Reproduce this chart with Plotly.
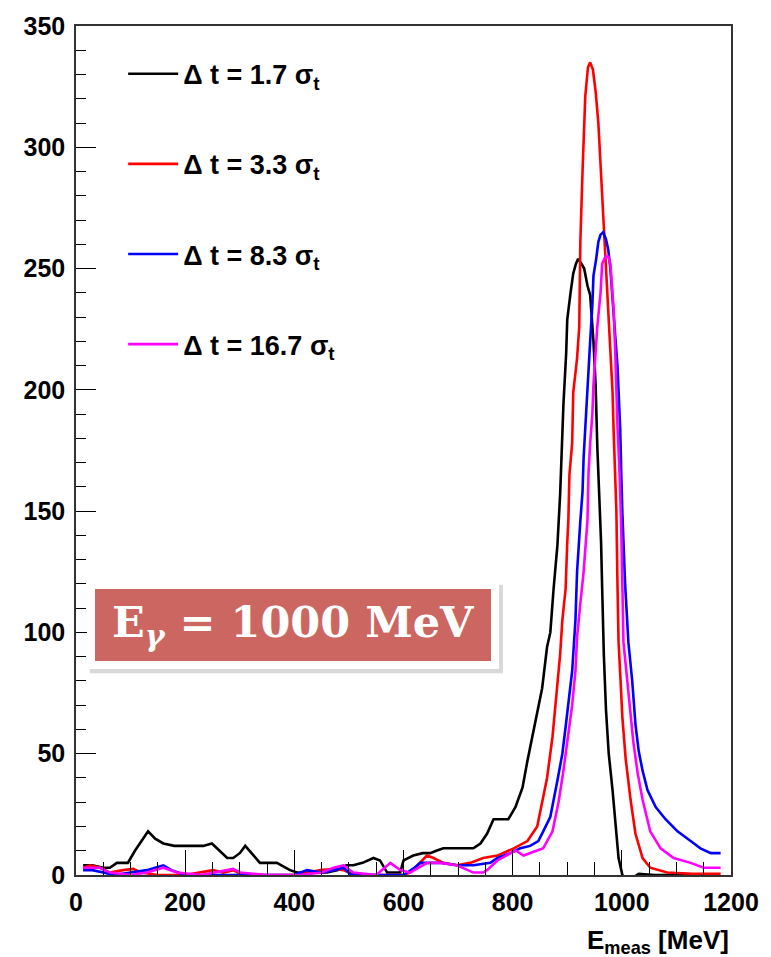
import plotly.graph_objects as go

# ---------------- data ----------------
black_E = [13, 30, 50, 62, 75, 95, 108, 120, 132, 145, 160, 180, 196, 215, 233, 249, 263, 277, 288, 300,
           310, 325, 337, 352, 368, 392, 405, 420, 440, 460, 480, 495, 508, 525, 545, 557, 570, 583, 594,
           600, 610, 618, 635, 649, 660, 673, 686, 698, 715, 728, 741, 753, 765, 780, 792, 805, 818, 827,
           836, 845, 854, 863, 869, 875, 882, 887, 891, 893, 898, 900, 906, 911, 916, 920, 926, 931, 937,
           942, 948, 952, 955, 958, 962, 964, 967, 971, 976, 983, 988, 994, 1001, 1012, 1021, 1031, 1060,
           1100, 1140, 1180]
black_N = [4, 4, 3, 3, 5, 5, 10, 14, 18, 15, 13, 12, 12, 12, 12, 13, 10, 7, 7, 9,
           12, 8, 5, 5, 5, 2, 1, 1, 1, 1, 2, 4, 4, 5, 7, 6, 1, 1, 1,
           6, 7, 8, 9, 9, 10, 11, 11, 11, 11, 11, 13, 17, 23, 23, 23, 28, 36, 47,
           57, 66, 77, 94, 100, 118, 136, 157, 181, 194, 215, 229, 240, 248, 252, 254, 252, 250, 243,
           239, 220, 202, 177, 160, 137, 118, 91, 68, 50, 35, 21, 7, 0, -3, -1, 0.5, 0,
           0, 0, 0]

red_E = [13, 26, 44, 62, 86, 105, 120, 150, 200, 251, 270, 288, 305, 350, 400, 448, 472, 490, 510, 550,
         600, 612, 625, 643, 655, 673, 698, 722, 746, 772, 802, 827, 845, 851, 863, 873, 882, 887, 891,
         897, 900, 902, 904, 909, 911, 918, 922, 924, 928, 931, 933, 938, 942, 947, 952, 957, 962, 966,
         970, 975, 979, 983, 985, 988, 990, 992, 994, 997, 1001, 1007, 1016, 1025, 1038, 1052, 1083,
         1130, 1181]
red_N = [3, 4, 3, 1, 2, 2.5, 1, 0, 0, 2, 1, 2, 0, 0, 0, 2, 2.5, 2, 0, 0,
         0, 1, 4, 8, 7, 5, 4, 5, 7, 8, 11, 14, 20, 27, 40, 57, 77, 91, 105,
         118, 137, 146, 165, 178, 199, 213, 226, 261, 290, 309, 321, 333, 335, 332, 323, 310, 288, 270,
         254, 233, 213, 199, 183, 165, 150, 120, 96, 83, 65, 48, 31, 17, 7, 3, 1,
         0.5, 0.5]

blue_E = [13, 30, 50, 70, 100, 130, 145, 160, 175, 200, 250, 300, 400, 423, 450, 472, 490, 502, 550, 600,
          607, 620, 631, 649, 670, 698, 728, 759, 772, 796, 814, 832, 847, 856, 869, 882, 891, 897, 902,
          909, 915, 918, 924, 928, 930, 933, 937, 942, 946, 948, 953, 957, 961, 966, 971, 975, 979, 983,
          988, 992, 994, 997, 999, 1001, 1006, 1012, 1019, 1025, 1031, 1038, 1047, 1062, 1080, 1102, 1126,
          1144, 1163, 1181]
blue_N = [2, 2, 1, 0, 1, 2, 3, 4, 2, 0, 0, 0, 0, 2, 1, 2, 3, 0.5, 0, 0,
          1, 3, 5, 5, 5, 4, 4, 5, 7, 9, 11, 12, 14, 18, 24, 39, 50, 61, 70,
          84, 105, 125, 146, 158, 172, 185, 199, 220, 235, 247, 254, 261, 264, 265, 262, 258, 250, 236,
          222, 210, 200, 184, 165, 149, 120, 96, 80, 62, 51, 43, 35, 28, 23, 18, 14,
          11, 9, 9]

magenta_E = [13, 44, 62, 100, 130, 160, 185, 230, 277, 288, 301, 350, 410, 450, 472, 490, 508, 550, 576, 594,
             612, 643, 667, 698, 728, 746, 753, 772, 796, 806, 820, 832, 856, 873, 884, 893, 902, 909, 915,
             918, 924, 930, 937, 939, 942, 946, 948, 952, 955, 961, 964, 970, 975, 979, 983, 985, 988, 990,
             992, 996, 999, 1003, 1010, 1016, 1021, 1029, 1038, 1052, 1071, 1095, 1126, 1150, 1181]
magenta_N = [3, 3, 1, 0, 1, 3, 1, 0, 2, 2.5, 1, 0, 0, 1, 3, 4, 1, 0, 5, 2,
             1, 5, 5, 4, 1, 1, 2, 6, 9, 10, 8, 9, 11, 18, 30, 43, 57, 70, 84,
             98, 112, 125, 146, 166, 178, 190, 202, 215, 226, 240, 252, 255, 255, 252, 240, 233, 215, 199,
             185, 165, 142, 96, 79, 64, 55, 42, 31, 18, 11, 7, 5, 3, 3]

series_names = ["Δ t = 1.7 σ<sub>t</sub>", "Δ t = 3.3 σ<sub>t</sub>",
                "Δ t = 8.3 σ<sub>t</sub>", "Δ t = 16.7 σ<sub>t</sub>"]
series_colors = ["#000000", "#FF0000", "#0000FF", "#FF00FF"]

x_ticks = [0, 200, 400, 600, 800, 1000, 1200]
y_ticks = [0, 50, 100, 150, 200, 250, 300, 350]

# ---------------- figure ----------------
fig = go.Figure()
xs = [black_E, red_E, blue_E, magenta_E]
ys = [black_N, red_N, blue_N, magenta_N]
for i, (x, y) in enumerate(zip(xs, ys)):
    fig.add_trace(go.Scatter(
        x=x, y=y, mode="lines", name="<b>" + series_names[i] + "</b>",
        legendgroup=str(i),
        line=dict(color=series_colors[i], width=2.6),
    ))

font_axis = dict(family="Liberation Sans, Arial", size=25, color="black", weight="bold")

fig.update_layout(
    width=771, height=957,
    margin=dict(l=76, r=40, t=21, b=82),
    paper_bgcolor="white", plot_bgcolor="white",
    showlegend=True,
    legend=dict(
        x=0.072, y=0.972, xanchor="left", yanchor="top",
        bgcolor="rgba(0,0,0,0)",
        font=dict(family="Liberation Sans, Arial", size=27, color="black"),
        tracegroupgap=52, itemwidth=50,
    ),
    xaxis=dict(
        range=[0, 1200], tickvals=x_ticks, ticktext=[str(v) for v in x_ticks],
        ticks="inside", ticklen=25, tickwidth=1.2, tickcolor="black",
        minor=dict(dtick=50, tick0=0, ticks="inside", ticklen=13, tickwidth=1.2, tickcolor="black"),
        showgrid=False, zeroline=False,
        showline=True, linecolor="#333333", linewidth=1.5, mirror=True,
        tickfont=font_axis, ticklabelstandoff=4,
    ),
    yaxis=dict(
        range=[0, 350], tickvals=y_ticks, ticktext=[str(v) for v in y_ticks],
        ticks="inside", ticklen=20, tickwidth=1.2, tickcolor="black",
        minor=dict(dtick=10, tick0=0, ticks="inside", ticklen=10, tickwidth=1.2, tickcolor="black"),
        showgrid=False, zeroline=False,
        showline=True, linecolor="#333333", linewidth=1.5, mirror=True,
        tickfont=font_axis, ticklabelstandoff=4,
    ),
)

# x-axis title (right aligned, ROOT style)
fig.add_annotation(
    text="<b>E<sub>meas</sub> [MeV]</b>",
    xref="paper", yref="paper", x=1.0, y=-0.056, xanchor="right", yanchor="top",
    showarrow=False, font=dict(family="Liberation Sans, Arial", size=26, color="black"),
)

# shadow for the energy label
fig.add_shape(type="rect", xref="paper", yref="paper",
              x0=(90 - 76) / 655, x1=(503 - 76) / 655,
              y0=(875 - 672) / 854, y1=(875 - 583) / 854,
              fillcolor="rgba(0,0,0,0.15)", line=dict(width=0), layer="above")

fig.add_annotation(
    text="<b>E<sub><i>γ</i></sub> = 1000 MeV</b>",
    xref="paper", yref="paper", x=(293 - 76) / 655, y=(875 - 624) / 854,
    xanchor="center", yanchor="middle", showarrow=False,
    width=396, height=72, borderpad=0, borderwidth=8,
    bgcolor="#CC6660", bordercolor="white",
    font=dict(family="DejaVu Serif", size=43, color="white"),
)

fig.write_html("out.html")
